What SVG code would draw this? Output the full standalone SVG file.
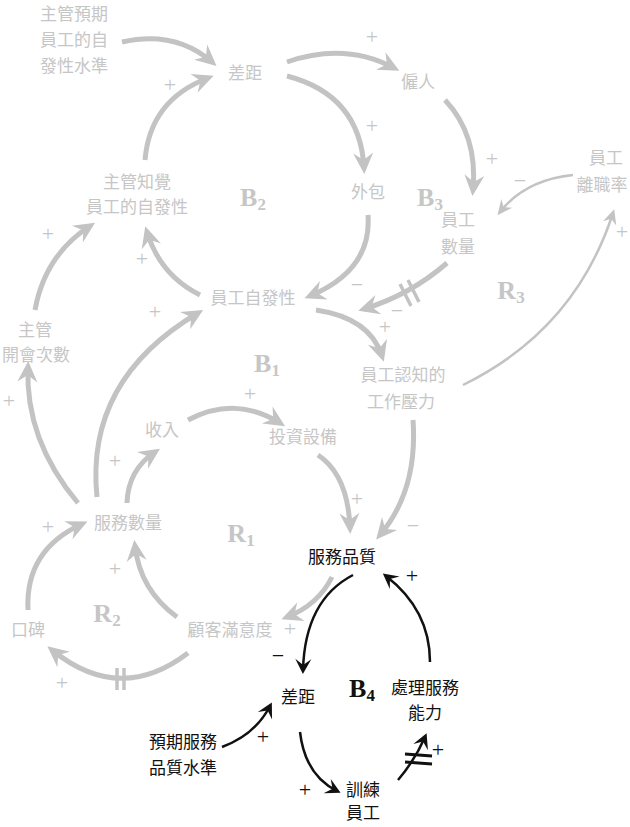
<svg xmlns="http://www.w3.org/2000/svg" width="630" height="827" viewBox="0 0 630 827">
<style>
.t{font-family:"Noto Sans CJK TC","Noto Sans CJK SC",sans-serif;font-size:17px;text-anchor:middle}
.g{fill:#c6c6c6}
.k{fill:#111}
.s{font-family:"Liberation Serif",serif;font-size:22px;text-anchor:middle}
.L{font-family:"Liberation Serif",serif;font-size:26px;font-weight:bold;text-anchor:middle}
.ga{fill:none;stroke:#c3c3c3;stroke-width:5;marker-end:url(#ag)}
.gt{fill:none;stroke:#c3c3c3;stroke-width:2.5;marker-end:url(#agt)}
.ka{fill:none;stroke:#111;stroke-width:2.5;marker-end:url(#ak)}
.dg{stroke:#c3c3c3;stroke-width:3.5}
.dk{stroke:#111;stroke-width:3}
</style>
<defs>
<marker id="ag" markerUnits="userSpaceOnUse" orient="auto" markerWidth="40" markerHeight="40" refX="0" refY="0" overflow="visible"><path d="M6,0 L-15,-10 L-8,0 L-15,10 Z" fill="#c3c3c3"/></marker>
<marker id="agt" markerUnits="userSpaceOnUse" orient="auto" markerWidth="30" markerHeight="30" refX="0" refY="0" overflow="visible"><path d="M4,0 L-11,-7 L-6,0 L-11,7 Z" fill="#c3c3c3"/></marker>
<marker id="ak" markerUnits="userSpaceOnUse" orient="auto" markerWidth="30" markerHeight="30" refX="0" refY="0" overflow="visible"><path d="M4,0 L-11,-8 L-5,0 L-11,8 Z" fill="#111"/></marker>
</defs>

<g id="connectors">
<path class="ga" d="M122,42 Q175,30 212,62"/>
<path class="ga" d="M145,160 Q150,100 208,78"/>
<path class="ga" d="M287,62 Q345,42 394,68"/>
<path class="ga" d="M287,76 Q360,95 364,168"/>
<path class="ga" d="M445,100 Q478,135 473,190"/>
<path class="gt" d="M573,175 Q525,180 500,212"/>
<path class="gt" d="M463,385 Q575,330 613,213"/>
<path class="ga" d="M368,215 Q372,270 310,296"/>
<path class="ga" d="M447,263 Q410,295 364,309"/>
<path class="ga" d="M316,310 Q370,318 382,356"/>
<path class="ga" d="M200,295 Q160,275 147,232"/>
<path class="ga" d="M35,310 Q45,255 90,226"/>
<path class="ga" d="M78,503 Q25,440 28,367"/>
<path class="ga" d="M97,497 Q85,380 198,313"/>
<path class="ga" d="M127,503 Q128,470 155,452"/>
<path class="ga" d="M188,420 Q235,395 280,423"/>
<path class="ga" d="M318,455 Q348,475 350,528"/>
<path class="ga" d="M413,420 Q418,490 380,535"/>
<path class="ga" d="M332,577 Q318,605 287,617"/>
<path class="ga" d="M177,617 Q140,590 135,546"/>
<path class="ga" d="M188,653 Q120,705 52,650"/>
<path class="ga" d="M28,610 Q25,550 82,524"/>
<path class="ka" d="M353,575 Q305,600 303,670"/>
<path class="ka" d="M430,662 Q430,610 386,576"/>
<path class="ka" d="M222,747 Q255,735 270,706"/>
<path class="ka" d="M300,732 Q305,775 337,791"/>
<path class="ka" d="M398,780 Q415,760 425,737"/>
<line class="dg" x1="400" y1="284" x2="411" y2="306"/>
<line class="dg" x1="408" y1="280" x2="419" y2="302"/>
<line class="dg" x1="117" y1="668" x2="117" y2="690"/>
<line class="dg" x1="124" y1="668" x2="124" y2="690"/>
<line class="dk" x1="405" y1="754" x2="432" y2="756"/>
<line class="dk" x1="405" y1="762" x2="432" y2="764"/>
</g>

<g id="signs">
<text class="s g" x="170" y="92">+</text>
<text class="s g" x="372" y="44">+</text>
<text class="s g" x="372" y="133">+</text>
<text class="s g" x="492" y="166">+</text>
<text class="s g" x="520" y="188">−</text>
<text class="s g" x="622" y="239">+</text>
<text class="s g" x="48" y="241">+</text>
<text class="s g" x="142" y="266">+</text>
<text class="s g" x="155" y="319">+</text>
<text class="s g" x="357" y="292">−</text>
<text class="s g" x="397" y="318">−</text>
<text class="s g" x="385" y="334">+</text>
<text class="s g" x="9" y="408">+</text>
<text class="s g" x="250" y="401">+</text>
<text class="s g" x="115" y="468">+</text>
<text class="s g" x="357" y="506">+</text>
<text class="s g" x="413" y="533">−</text>
<text class="s g" x="48" y="534">+</text>
<text class="s g" x="115" y="576">+</text>
<text class="s g" x="290" y="636">+</text>
<text class="s g" x="62" y="690">+</text>
<text class="s k" x="412" y="583">+</text>
<text class="s k" x="278" y="663">−</text>
<text class="s k" x="263" y="744">+</text>
<text class="s k" x="305" y="797">+</text>
<text class="s k" x="438" y="757">+</text>
</g>

<g id="loops">
<text class="L g" x="253" y="206">B<tspan font-size="17" dy="4">2</tspan></text>
<text class="L g" x="430" y="206">B<tspan font-size="17" dy="4">3</tspan></text>
<text class="L g" x="511" y="299">R<tspan font-size="17" dy="4">3</tspan></text>
<text class="L g" x="267" y="372">B<tspan font-size="17" dy="4">1</tspan></text>
<text class="L g" x="241" y="542">R<tspan font-size="17" dy="4">1</tspan></text>
<text class="L g" x="107" y="622">R<tspan font-size="17" dy="4">2</tspan></text>
<text class="L k" x="362" y="697">B<tspan font-size="17" dy="4">4</tspan></text>
</g>

<g id="n-expect"><text class="t g" x="74" y="20">主管預期</text><text class="t g" x="74" y="46">員工的自</text><text class="t g" x="74" y="72">發性水準</text></g>
<g id="n-gap1"><text class="t g" x="245" y="79">差距</text></g>
<g id="n-hire"><text class="t g" x="418" y="88">僱人</text></g>
<g id="n-outsource"><text class="t g" x="368" y="198">外包</text></g>
<g id="n-staff"><text class="t g" x="458" y="226">員工</text><text class="t g" x="458" y="253">數量</text></g>
<g id="n-turnover"><text class="t g" x="606" y="164">員工</text><text class="t g" x="602" y="191">離職率</text></g>
<g id="n-perceive"><text class="t g" x="137" y="188">主管知覺</text><text class="t g" x="137" y="213">員工的自發性</text></g>
<g id="n-initiative"><text class="t g" x="253" y="304">員工自發性</text></g>
<g id="n-meetings"><text class="t g" x="35" y="336">主管</text><text class="t g" x="36" y="361">開會次數</text></g>
<g id="n-pressure"><text class="t g" x="403" y="381">員工認知的</text><text class="t g" x="401" y="408">工作壓力</text></g>
<g id="n-revenue"><text class="t g" x="162" y="436">收入</text></g>
<g id="n-invest"><text class="t g" x="303" y="443">投資設備</text></g>
<g id="n-volume"><text class="t g" x="128" y="529">服務數量</text></g>
<g id="n-wom"><text class="t g" x="28" y="636">口碑</text></g>
<g id="n-satisfaction"><text class="t g" x="230" y="636">顧客滿意度</text></g>
<g id="n-quality"><text class="t k" x="342" y="563">服務品質</text></g>
<g id="n-gap2"><text class="t k" x="298" y="703">差距</text></g>
<g id="n-capacity"><text class="t k" x="425" y="694">處理服務</text><text class="t k" x="425" y="719">能力</text></g>
<g id="n-expected-quality"><text class="t k" x="183" y="748">預期服務</text><text class="t k" x="183" y="774">品質水準</text></g>
<g id="n-training"><text class="t k" x="363" y="796">訓練</text><text class="t k" x="363" y="819">員工</text></g>
</svg>
